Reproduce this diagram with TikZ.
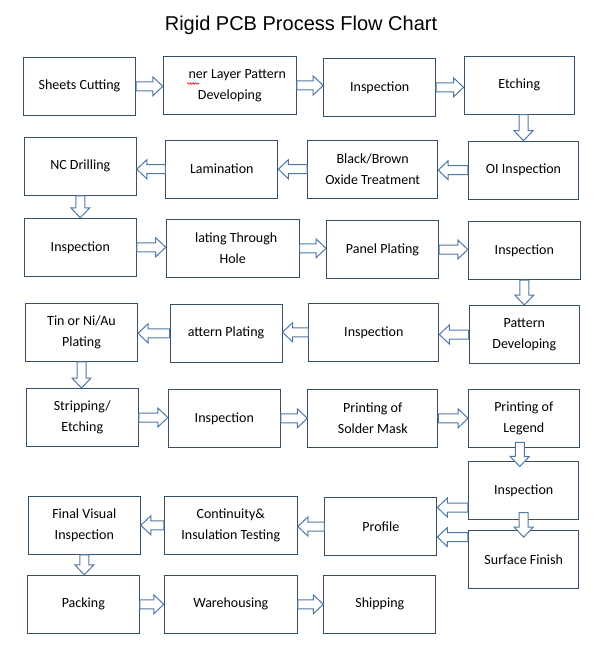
\documentclass[tikz,border=0pt]{standalone}
\usepackage{fontspec}
\setmainfont{Carlito}
\newfontfamily\titlefont{Liberation Sans}
\usetikzlibrary{calc,decorations.pathmorphing}
\definecolor{boxline}{RGB}{55,80,105}
\definecolor{arrowline}{RGB}{80,120,165}
\tikzset{
  box/.style={draw=boxline, line width=1pt, align=center, inner sep=0pt,
    minimum width=112pt, minimum height=58pt, font=\fontsize{14}{21}\selectfont},
  wide/.style={minimum width=133pt},
  mid/.style={minimum width=130pt},
  slim/.style={minimum width=110.5pt},
  blk/.style={draw=arrowline, line width=1pt, fill=white, line join=miter,
    to path={let \p1=($(\tikztotarget)-(\tikztostart)$),
      \n1={atan2(\y1,\x1)}, \n2={veclen(\x1,\y1)} in
      ([shift={(\tikztostart)},rotate=\n1]0pt,4.5pt)
      -- ([shift={(\tikztostart)},rotate=\n1]\n2-10pt,4.5pt)
      -- ([shift={(\tikztostart)},rotate=\n1]\n2-10pt,9.5pt)
      -- ([shift={(\tikztostart)},rotate=\n1]\n2+0pt,0pt)
      -- ([shift={(\tikztostart)},rotate=\n1]\n2-10pt,-9.5pt)
      -- ([shift={(\tikztostart)},rotate=\n1]\n2-10pt,-4.5pt)
      -- ([shift={(\tikztostart)},rotate=\n1]0pt,-4.5pt) -- cycle}}
}
\begin{document}
\begin{tikzpicture}[x=1pt,y=-1pt]
  \path[use as bounding box, fill=white] (0,0) rectangle (606,660);
  \node[font=\titlefont\fontsize{20}{24}\selectfont, anchor=base] (title) at (301,31) {Rigid PCB Process Flow Chart};
  \draw
    (79.5,86.3) node[box] (0){Sheets Cutting}
    (229.8,85.5) node[box,wide] (1){\hspace*{15pt}ner Layer Pattern\\Developing}
    (379.7,87.3) node[box] (2){Inspection}
    (519.3,85.2) node[box,slim] (3){Etching}
    (523.5,170.2) node[box,slim] (4){OI Inspection}
    (372.7,169.2) node[box,mid] (5){Black/Brown\\Oxide Treatment}
    (221.8,169.2) node[box] (6){Lamination}
    (80.3,166.3) node[box] (7){NC Drilling}
    (80.3,247.3) node[box] (8){Inspection}
    (232.7,248.3) node[box,wide] (9){\hspace*{7pt}lating Through\\Hole}
    (382.5,249.5) node[box] (10){Panel Plating}
    (524.3,250.5) node[box] (11){Inspection}
    (524.3,334.5) node[box,slim] (12){Pattern\\Developing}
    (373.8,332.3) node[box,mid] (13){Inspection}
    (226,333.3) node[box] (14){attern Plating}
    (81.5,332.3) node[box] (15){Tin or Ni/Au\\Plating}
    (82.3,417.5) node[box] (16){Stripping/\\Etching}
    (224.3,418.3) node[box] (17){Inspection}
    (372.8,418.3) node[box,mid] (18){Printing of\\Solder Mask}
    (523.8,418.3) node[box,slim] (19){Printing of\\Legend}
    (523.7,490.5) node[box,slim] (20){Inspection}
    (523.7,559.2) node[box,slim] (21){Surface Finish}
    (380.8,526.5) node[box] (22){Profile}
    (230.8,525.3) node[box,wide] (23){Continuity\&\\Insulation Testing}
    (84.3,525.3) node[box] (24){Final Visual\\Inspection}
    (83.3,604.3) node[box] (25){Packing}
    (230.8,604.3) node[box,wide] (26){Warehousing}
    (379.8,604.3) node[box] (27){Shipping};
  \draw[red, line width=0.6pt, decorate, decoration={snake, amplitude=0.8pt, segment length=2.6pt}]
    (187,83.5) -- (199,83.5);
  \begin{scope}[every path/.style={blk}]
    \draw (0.east) to (1.west |- 0.east);
    \draw (1.east) to (2.west |- 1.east);
    \draw (2.east) to (3.west |- 2.east);
    \draw (4.north |- 3.south) to (4.north);
    \draw (4.west) to (5.east |- 4.west);
    \draw (5.west) to (6.east |- 5.west);
    \draw (6.west) to (7.east |- 6.west);
    \draw (7.south) to (8.north -| 7.south);
    \draw (8.east) to (9.west |- 8.east);
    \draw (9.east) to (10.west |- 9.east);
    \draw (10.east) to (11.west |- 10.east);
    \draw (11.south) to (12.north -| 11.south);
    \draw (12.west) to (13.east |- 12.west);
    \draw (13.west) to (14.east |- 13.west);
    \draw (14.west) to (15.east |- 14.west);
    \draw (15.south) to (16.north -| 15.south);
    \draw (16.east) to (17.west |- 16.east);
    \draw (17.east) to (18.west |- 17.east);
    \draw (18.east) to (19.west |- 18.east);
    \draw ([xshift=-4pt,yshift=5.5pt]19.south) to ([xshift=-4pt,yshift=-5.5pt]20.north);
    \draw ([yshift=-17pt]20.west) to ([yshift=19pt]22.east);
    \draw ([yshift=22pt]21.west) to ([yshift=-10.5pt]22.east);
    \draw ([yshift=7.5pt]20.south) to ([yshift=-7.5pt]21.north);
    \draw (22.west) to (23.east |- 22.west);
    \draw (23.west) to (24.east |- 23.west);
    \draw (24.south) to (25.north -| 24.south);
    \draw (25.east) to (26.west |- 25.east);
    \draw (26.east) to (27.west |- 26.east);
  \end{scope}
\end{tikzpicture}
\end{document}
